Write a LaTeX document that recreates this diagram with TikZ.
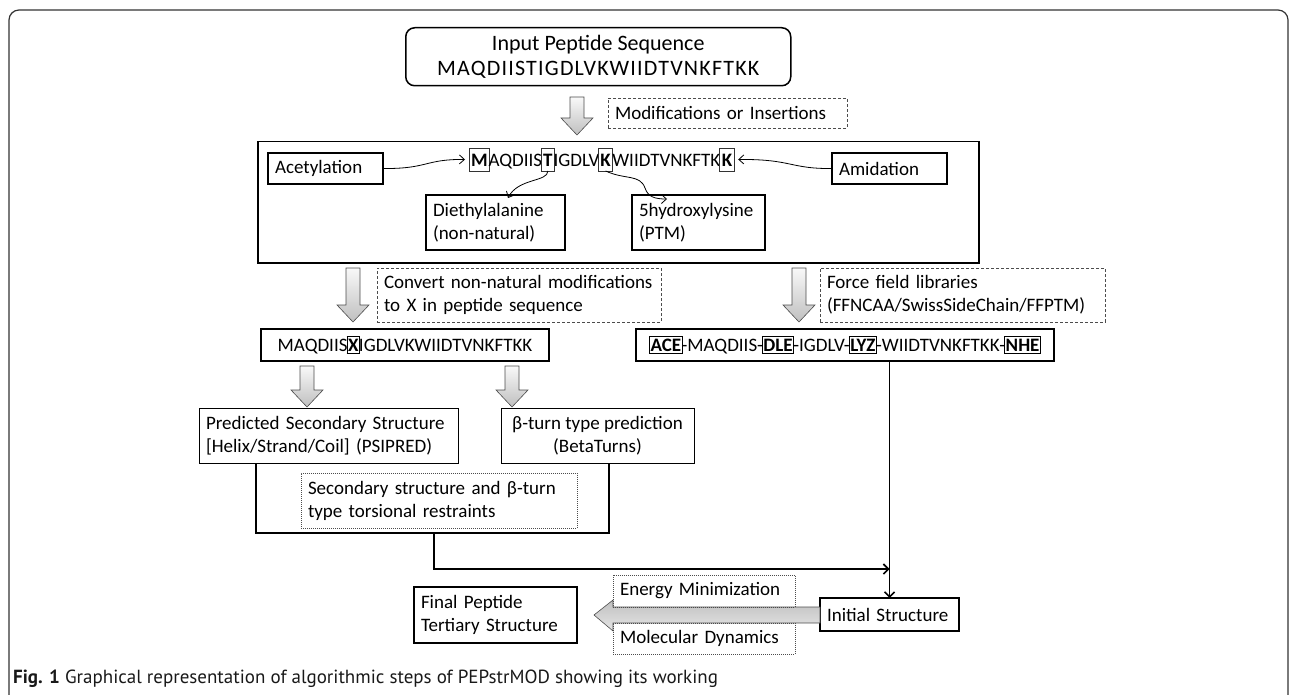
\documentclass[tikz,border=0pt]{standalone}
\usepackage{fontspec}
\setmainfont{Carlito}
\newfontfamily\capfont{PT Sans}
\newfontfamily\spacedfont[LetterSpace=5.5]{Carlito}
\usetikzlibrary{arrows.meta}
\newcommand\fsz{\fontsize{19}{23}\selectfont}
\newcommand\fszb{\fontsize{22}{25}\selectfont}
\newcommand\xbx[1]{{\setlength\fboxsep{0.6pt}\setlength\fboxrule{0.9pt}\kern-1pt\fbox{\rule[-1.5pt]{0pt}{15pt}\textbf{#1}}\kern-1pt}}
\newcommand\GArrowDown[3]{%
  \path[garrow] ({#1-7},#2) -- ({#1+7},#2) -- ({#1+7},{#3-17}) -- ({#1+16},{#3-17})
    -- (#1,#3) -- ({#1-16},{#3-17}) -- ({#1-7},{#3-17}) -- cycle;}
\begin{document}
\begin{tikzpicture}[x=1pt,y=-1pt,
  box/.style={draw=black, line width=1.5pt, inner xsep=7pt, inner ysep=2pt, outer sep=0pt,
    font=\fsz, align=left, anchor=north west},
  dbox/.style={draw=gray!60!black, line width=0.8pt, dash pattern=on 3pt off 2pt,
    inner xsep=7pt, inner ysep=2pt, outer sep=0pt, font=\fsz, align=left, anchor=north west},
  obox/.style={draw=gray!60!black, line width=0.8pt, dash pattern=on 1pt off 1pt,
    inner xsep=7pt, inner ysep=2pt, outer sep=0pt, font=\fsz, align=left, anchor=north west},
  garrow/.style={draw=gray!60!black, line width=0.6pt, top color=gray!5, bottom color=gray!50},
  stxt/.style={anchor=base west, inner sep=0pt, outer sep=0pt, font=\fsz},
  sbox/.style={anchor=base west, draw=black!80, line width=0.7pt, inner xsep=2pt, inner ysep=2pt,
    outer sep=0pt, text height=17pt, text depth=2pt, font=\fsz\bfseries},
  conn/.style={line width=0.8pt, -{Straight Barb[length=5pt,width=9pt]}},
  thick line/.style={line width=1.6pt},
  flow/.style={line width=1.6pt, -{Straight Barb[length=5pt,width=10pt]}}
]
\useasboundingbox (0,0) rectangle (1290,695);
\begin{scope}
  \clip (0,0) rectangle (1290,695);
  \draw[line width=1.2pt, draw=black!80, rounded corners=10pt] (9,10) rectangle (1288,760);
\end{scope}

% input
\node[draw=black, line width=1.5pt, rounded corners=9pt, anchor=north west, minimum width=385,
  minimum height=58, align=center, font=\fszb, inner sep=2pt] (input) at (405,27)
  {Input Peptide Sequence\\{\spacedfont MAQDIISTIGDLVKWIIDTVNKFTKK}};
\GArrowDown{577}{97}{135}
\node[dbox, text width=225, minimum height=30] (modif) at (608,98) {Modifications or Insertions};

% big modification box
\node[draw=black, line width=1.5pt, anchor=north west, minimum width=721, minimum height=121,
  inner sep=0pt] (big) at (257,141) {};
\node[box, text width=101, minimum height=31] (acet) at (268,153) {Acetylation};
\node[box, text width=101, minimum height=31] (amid) at (832,153) {Amidation};
\node[box, text width=125, minimum height=55, inner ysep=1pt] (dieth) at (426,195) {Diethylalanine\\(non-natural)};
\node[box, text width=119, minimum height=55, inner ysep=1pt] (hydro) at (632,195) {5hydroxylysine\\(PTM)};

% sequence with marked residues
\node[sbox] (sM) at (469,167) {M};
\node[stxt] (sa) at ([xshift=-1pt]sM.base east) {AQDIIS};
\node[sbox] (sT) at ([xshift=-1pt]sa.base east) {T};
\node[stxt] (sb) at ([xshift=-1pt]sT.base east) {IGDLV};
\node[sbox] (sK) at ([xshift=-1pt]sb.base east) {K};
\node[stxt] (sc) at ([xshift=-0.5pt]sK.base east) {WIIDTVNKFTK};
\node[sbox] (sK2) at ([xshift=-0.5pt]sc.base east) {K};
\coordinate (dtip) at (508,198);
\coordinate (htip) at (667,199);

\draw[conn] (acet.east) .. controls (428,169) and (425,159) .. ([xshift=-4pt]sM.west);
\draw[conn] (amid.west) .. controls (790,169) and (792,159) .. ([xshift=4pt]sK2.east);
\draw[conn] (sT.south) .. controls (548,182) and (518,178) .. (dtip);
\draw[conn] (sK.south) .. controls (625,180) and (640,174) .. (645,188) .. controls (648,197) and (655,199) .. (htip);

% conversions
\GArrowDown{353}{268}{322}
\node[dbox, text width=270, minimum height=54, inner ysep=1pt] (conv) at (377,268)
  {Convert non-natural modifications\\to X in peptide sequence};
\GArrowDown{799}{268}{322}
\node[dbox, text width=271, minimum height=54, inner ysep=1pt] (ff) at (820,268)
  {Force field libraries\\(FFNCAA/SwissSideChain/FFPTM)};

\node[box, minimum width=288, minimum height=32, align=center, inner xsep=2pt] (seqx) at (261,329)
  {MAQDIIS\xbx{X}IGDLVKWIIDTVNKFTKK};
\node[box, minimum width=418, minimum height=32, align=center, inner xsep=2pt] (seqff) at (636,329)
  {\xbx{ACE}-MAQDIIS-\xbx{DLE}-IGDLV-\xbx{LYZ}-WIIDTVNKFTKK-\xbx{NHE}};

\GArrowDown{307}{366}{407}
\GArrowDown{512}{366}{407}
\node[draw=black, line width=0.9pt, anchor=north west, text width=245, minimum height=55,
  inner xsep=7pt, inner ysep=1pt, font=\fsz, align=left, outer sep=0pt] (pred) at (199,408)
  {Predicted Secondary Structure\\{[Helix/Strand/Coil]} (PSIPRED)};
\node[draw=black, line width=0.9pt, anchor=north west, minimum width=193, minimum height=55,
  inner xsep=4pt, inner ysep=1pt, font=\fsz, align=center, outer sep=0pt] (beta) at (501,408)
  {β-turn type prediction\\(BetaTurns)};
\node[obox, text width=262, minimum height=55, inner ysep=1pt] (restr) at (301,473)
  {Secondary structure and β-turn\\type torsional restraints};

\coordinate (ul) at (256,533);
\coordinate (ur) at (609,533);
\draw[thick line] (pred.south -| ul) -- (ul) -- (ur) -- (beta.south -| ur);
\coordinate (um) at (434,533);
\coordinate (turn) at (434,569);

% final stage
\node[box, line width=1.3pt, text width=125, minimum height=33] (init) at (820,598) {Initial Structure};
\draw[flow] (seqff.south -| init.north) -- (init.north);
\draw[flow] (um) -- (turn) -- (turn -| init.north);

\path[draw=gray!60!black, line width=0.6pt, top color=gray!50, bottom color=gray!20]
  (init.west |- 0,607) -- (613,607) -- (613,600) -- (594,615) -- (613,631) -- (613,623)
  -- (init.west |- 0,623) -- cycle;
\node[obox, text width=168, minimum height=32] (energy) at (613,575) {Energy Minimization};
\node[obox, text width=168, minimum height=31] (md) at (613,623) {Molecular Dynamics};
\node[box, line width=1.3pt, text width=149, minimum height=56, inner ysep=1pt] (final) at (414,587)
  {Final Peptide\\Tertiary Structure};

% caption
\node[anchor=base west, inner sep=0pt, font=\capfont\fontsize{19}{23}\selectfont, text=black!90] (cap) at (13,683)
  {\textbf{Fig. 1} Graphical representation of algorithmic steps of PEPstrMOD showing its working};
\end{tikzpicture}
\end{document}
